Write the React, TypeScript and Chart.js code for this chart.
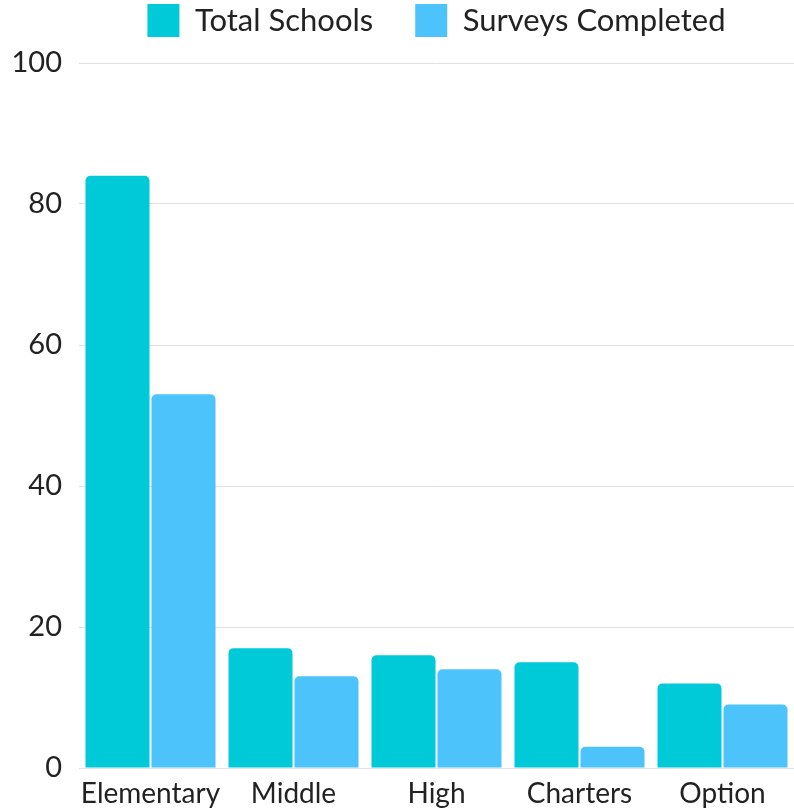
import React, { useEffect, useRef } from "react";
import { Chart, registerables } from "chart.js";

Chart.register(...registerables);

const categories = ["Elementary", "Middle", "High", "Charters", "Option"];
const totalSchools = [84, 17, 16, 15, 12];
const surveysCompleted = [53, 13, 14, 3, 9];
const seriesNames = ["Total Schools", "Surveys Completed"];

export default function App() {
  const ref = useRef<HTMLCanvasElement | null>(null);
  useEffect(() => {
    document.body.style.margin = "0";
    const ctx = ref.current!;
    const radius = { topLeft: 5, topRight: 5, bottomLeft: 0, bottomRight: 0 };
    const chart = new Chart(ctx, {
      type: "bar",
      data: {
        labels: categories,
        datasets: [
          {
            label: seriesNames[0],
            data: totalSchools,
            backgroundColor: "#00C9D8",
            borderRadius: radius,
            borderSkipped: "bottom",
          },
          {
            label: seriesNames[1],
            data: surveysCompleted,
            backgroundColor: "#4CC3FB",
            borderRadius: radius,
            borderSkipped: "bottom",
          },
        ],
      },
      options: {
        responsive: false,
        animation: false,
        maintainAspectRatio: false,
        datasets: { bar: { categoryPercentage: 0.923, barPercentage: 0.97 } },
        layout: { padding: { left: 14, right: 0, top: -38, bottom: 0 } },
        plugins: {
          legend: {
            position: "top",
            fullSize: false,
            labels: {
              font: { family: "Lato", size: 31 },
              color: "#222",
              boxWidth: 32,
              boxHeight: 33,
              padding: 42,
            },
          },
          title: {
            display: true,
            text: "",
            position: "top",
            fullSize: false,
            weight: 0,
            padding: 0,
            font: { size: 16, lineHeight: 1 },
          },
          tooltip: { enabled: false },
        },
        scales: {
          x: {
            grid: { display: false, drawTicks: false },
            border: { display: false },
            ticks: {
              font: { family: "Lato", size: 28 },
              color: "#222",
              padding: 9,
              maxRotation: 0,
              autoSkip: false,
            },
            afterFit: (s: any) => {
              s.paddingLeft = 0;
              s.paddingRight = 0;
              s.height = 43;
            },
          },
          y: {
            min: 0,
            max: 100,
            ticks: { stepSize: 20, font: { family: "Lato", size: 29 }, color: "#222", padding: 17 },
            grid: { color: "#e0e0e0", drawTicks: false },
            border: { display: false },
            afterFit: (s: any) => {
              s.width = 65;
            },
          },
        },
      },
    });
    return () => chart.destroy();
  }, []);
  return (
    <div style={{ position: "absolute", left: 0, top: 0, width: 794, height: 811, background: "#fff" }}>
      <canvas ref={ref} width={794} height={811} />
    </div>
  );
}
